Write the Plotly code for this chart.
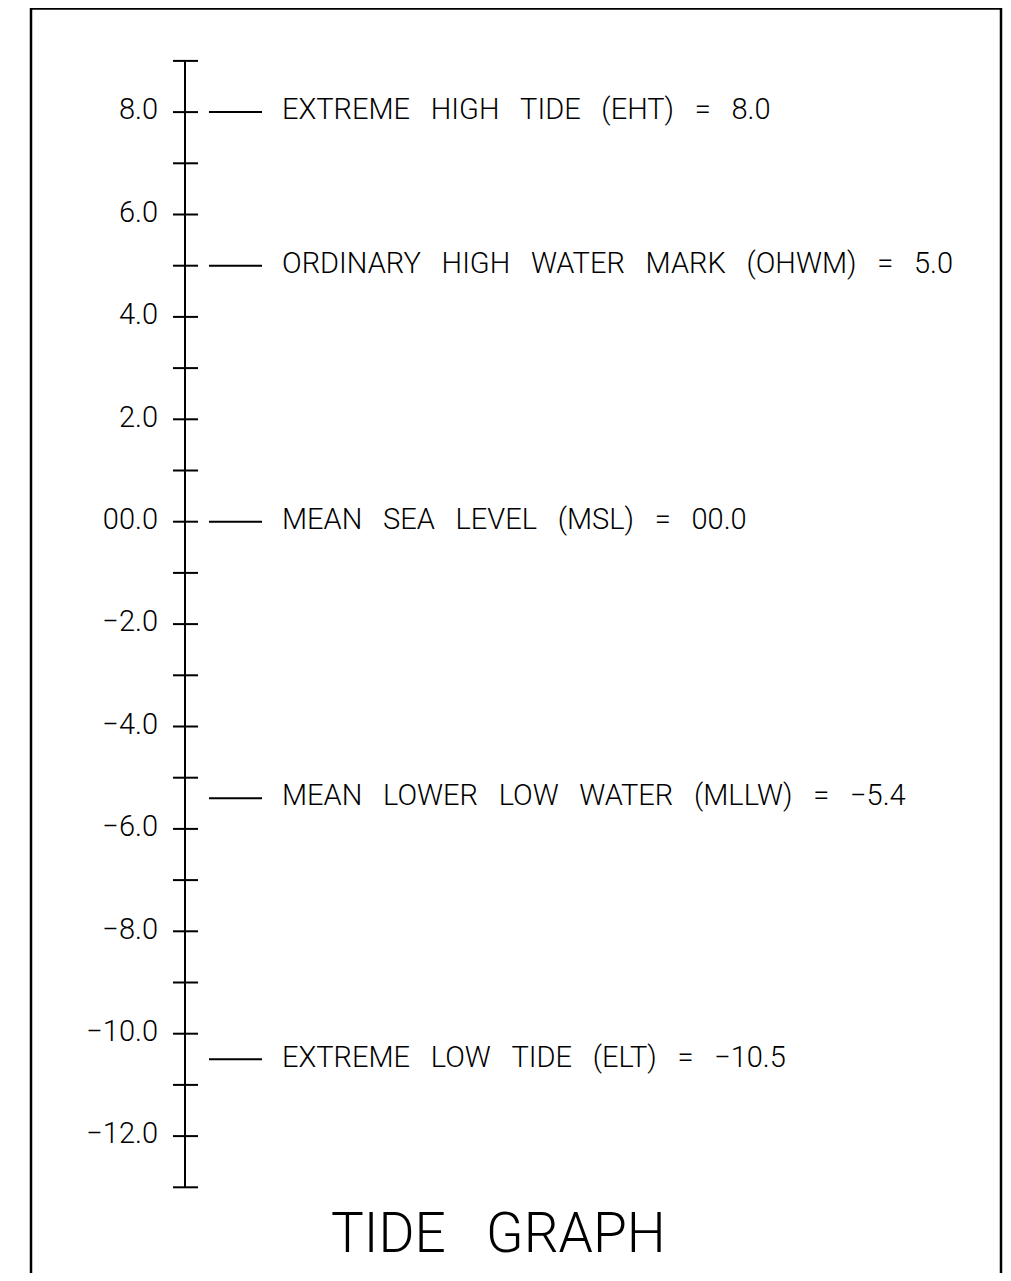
import plotly.graph_objects as go

# ---- data ----
tick_values = [9, 8, 7, 6, 5, 4, 3, 2, 1, 0, -1, -2, -3, -4, -5, -6, -7, -8, -9, -10, -11, -12, -13]
label_values = [8, 6, 4, 2, 0, -2, -4, -6, -8, -10, -12]
label_texts = ["8.0", "6.0", "4.0", "2.0", "00.0", "\u22122.0", "\u22124.0", "\u22126.0",
               "\u22128.0", "\u221210.0", "\u221212.0"]
level_values = [8.0, 5.0, 0.0, -5.4, -10.5]
level_names = ["EXTREME HIGH TIDE (EHT)", "ORDINARY HIGH WATER MARK (OHWM)",
               "MEAN SEA LEVEL (MSL)", "MEAN LOWER LOW WATER (MLLW)", "EXTREME LOW TIDE (ELT)"]
level_texts = ["8.0", "5.0", "00.0", "\u22125.4", "\u221210.5"]
title_text = "TIDE GRAPH"

# ---- style (page-pixel layout; page body has an 8px margin) ----
OFF = 8
W, H = 1011 - 2 * OFF, 1281 - 2 * OFF
FONT = "Roboto"
SP = "\u2002\u2009"          # wide CAD-style word spacing
TSP = "\u00a0\u00a0\u00a0"   # title word spacing
AX_X = 185
TICK_X0, TICK_X1 = 173, 198
LINE_X0, LINE_X1 = 209, 262
TEXT_X = 282
LABEL_X = 158
FRAME_L, FRAME_R = 31, 1001
ZERO_PX = 521.7
PX_PER_UNIT = 51.2


def paper_y(page_px):
    return 1 - (page_px - OFF) / H


fig = go.Figure()

# axis spine (between the end caps)
fig.add_trace(go.Scatter(x=[AX_X, AX_X], y=[min(tick_values), max(tick_values)], mode="lines",
                         line=dict(color="black", width=2), hoverinfo="skip", showlegend=False))

# tick marks crossing the spine
tx, ty = [], []
for v in tick_values:
    tx += [TICK_X0, TICK_X1, None]
    ty += [v, v, None]
fig.add_trace(go.Scatter(x=tx, y=ty, mode="lines", line=dict(color="black", width=2),
                         hoverinfo="skip", showlegend=False))

# tick labels
fig.add_trace(go.Scatter(x=[LABEL_X] * len(label_values), y=label_values, mode="text",
                         text=label_texts, textposition="middle left",
                         textfont=dict(family=FONT, size=29, color="black", weight=300),
                         hoverinfo="skip", showlegend=False))

# level marker lines
lx, ly = [], []
for v in level_values:
    lx += [LINE_X0, LINE_X1, None]
    ly += [v, v, None]
fig.add_trace(go.Scatter(x=lx, y=ly, mode="lines", line=dict(color="black", width=2),
                         hoverinfo="skip", showlegend=False))

# level texts
texts = [SP.join(n.split(" ")) + SP + "=" + SP + t for n, t in zip(level_names, level_texts)]
fig.add_trace(go.Scatter(x=[TEXT_X] * len(level_values), y=level_values, mode="text",
                         text=texts, textposition="middle right",
                         textfont=dict(family=FONT, size=29, color="black", weight=300),
                         hoverinfo="skip", showlegend=False))

# frame (open at bottom)
top = paper_y(OFF + 0.5)
fig.add_shape(type="path", xref="x", yref="paper",
              path=f"M {FRAME_L} -0.05 L {FRAME_L} {top} L {FRAME_R} {top} L {FRAME_R} -0.05",
              line=dict(color="black", width=2.5))

fig.add_annotation(x=498, y=paper_y(1233), xref="x", yref="paper",
                   text=TSP.join(title_text.split(" ")),
                   showarrow=False, xanchor="center", yanchor="middle",
                   font=dict(family=FONT, size=55, color="black", weight=300))

fig.update_layout(
    width=W, height=H, margin=dict(l=0, r=0, t=0, b=0),
    paper_bgcolor="white", plot_bgcolor="white",
    xaxis=dict(range=[OFF, OFF + W], visible=False, domain=[0, 1]),
    yaxis=dict(range=[(ZERO_PX - OFF - H) / PX_PER_UNIT, (ZERO_PX - OFF) / PX_PER_UNIT],
               visible=False, domain=[0, 1]),
    showlegend=False,
)

fig.write_html("out.html")
